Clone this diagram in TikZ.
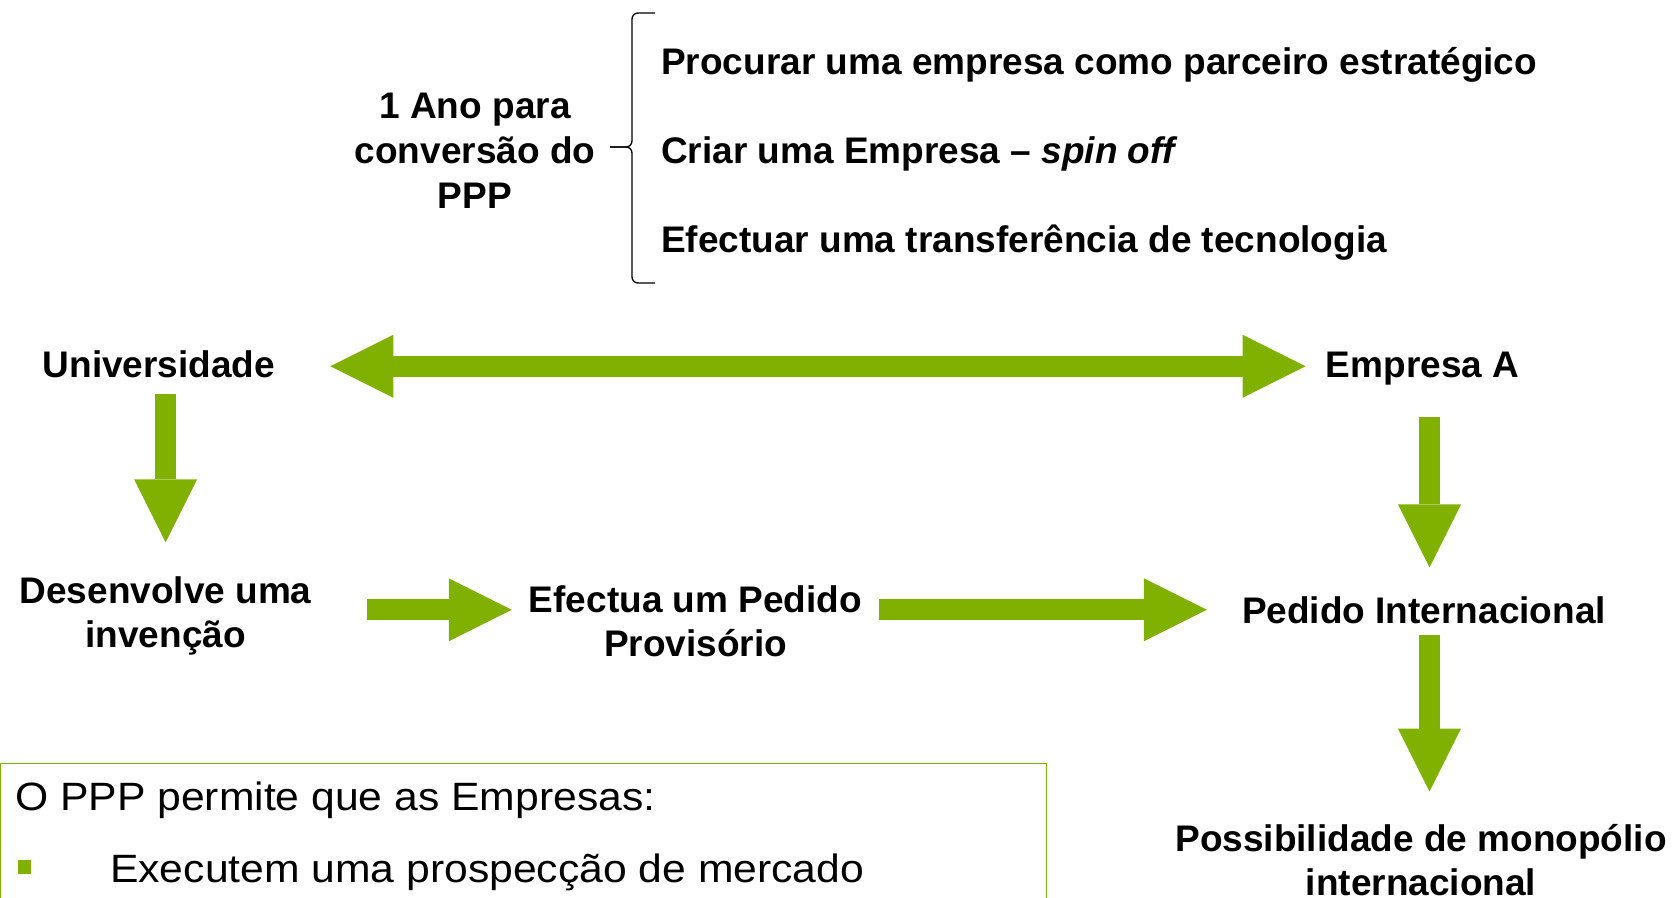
\documentclass[tikz,border=0pt]{standalone}
\usepackage{fontspec}
\setmainfont{Liberation Sans}
\usetikzlibrary{arrows.meta,calc}
\definecolor{arrowgreen}{RGB}{128,177,0}

\begin{document}
\begin{tikzpicture}[
    x=1pt, y=-1pt,
    flowtext/.style={inner sep=0pt, align=center, font=\bfseries\fontsize{37}{44}\selectfont},
    optiontext/.style={inner sep=0pt, anchor=base west, font=\bfseries\fontsize{37}{44}\selectfont},
    notetext/.style={inner sep=0pt, anchor=base west, font=\fontsize{39.5}{44}\selectfont},
    fatarrow/.style={color=arrowgreen, line width=21pt, -{Triangle[length=63pt,width=63pt,line width=0pt]}},
    dfatarrow/.style={fatarrow, {Triangle[length=63pt,width=63pt,line width=0pt]}-{Triangle[length=63pt,width=63pt,line width=0pt]}},
    bracket/.style={line width=1.3pt, rounded corners=6pt},
    notebox/.style={draw=arrowgreen, line width=1.3pt, inner sep=0pt}
]
\useasboundingbox (0,0) rectangle (1675,897);

% Conversion period and the three options
\node[flowtext, font=\bfseries\fontsize{37}{45}\selectfont] (year) at (475,151) {1 Ano para\\conversão do\\PPP};
\node[optiontext] (opt1) at (661,74.5) {Procurar uma empresa como parceiro estratégico};
\node[optiontext] (opt2) at (661,163.5) {Criar uma Empresa – \textit{spin off}};
\node[optiontext] (opt3) at (661,252.5) {Efectuar uma transferência de tecnologia};

% Brace
\coordinate (bracetop) at (655,13);
\coordinate (bracebot) at (655,283);
\coordinate (bracetip) at (610,147);
\draw[bracket] (bracetop) -- (632,13) -- (632,147) -- (bracetip);
\draw[bracket] (bracebot) -- (632,283) -- (632,147) -- (bracetip);

% Flow of the patent
\node[flowtext, anchor=base] (univ) at (159,377) {Universidade};
\node[flowtext, anchor=base] (empA) at (1422.5,377) {Empresa A};
\node[flowtext] (dev) at (165.6,615.8) {Desenvolve uma\\invenção};
\node[flowtext] (prov) at (695.5,621.5) {Efectua um Pedido\\Provisório};
\node[flowtext, anchor=base] (pint) at (1424,623) {Pedido Internacional};
\node[flowtext] (mono) at (1421,860) {Possibilidade de monopólio\\internacional};

\draw[dfatarrow, shorten <=55pt, shorten >=20pt] ([yshift=-2.5pt]univ.east) -- ([yshift=-2.5pt]univ.east -| empA.west);
\draw[fatarrow, shorten <=16pt, shorten >=34pt] (univ.south -| dev.north) -- (dev.north);
\draw[fatarrow, shorten <=55pt, shorten >=17pt] (pint.west -| dev.east) -- (pint.west -| prov.west);
\draw[fatarrow, shorten <=17pt, shorten >=35pt] (pint.west -| prov.east) -- (pint.west);
\draw[fatarrow, shorten <=32pt, shorten >=28.5pt] ([xshift=7pt]empA.south) -- ([xshift=5.5pt]pint.north);
\draw[fatarrow, shorten <=11pt, shorten >=32.5pt] ([xshift=5.5pt]pint.south) -- ([xshift=5.5pt]pint.south |- mono.north);

% Note box
\node[notebox, anchor=north west, minimum width=1046pt, minimum height=160pt] (note) at (0,763) {};
\node[notetext] (note1) at (15,810) {\scalebox{1.08}[1]{O PPP permite que as Empresas:}};
\node[fill=arrowgreen, minimum width=12.5pt, minimum height=14pt, inner sep=0pt] (bullet) at (24.5,867) {};
\node[notetext] (note2) at (110,882) {\scalebox{1.08}[1]{Executem uma prospecção de mercado}};

\end{tikzpicture}
\end{document}
